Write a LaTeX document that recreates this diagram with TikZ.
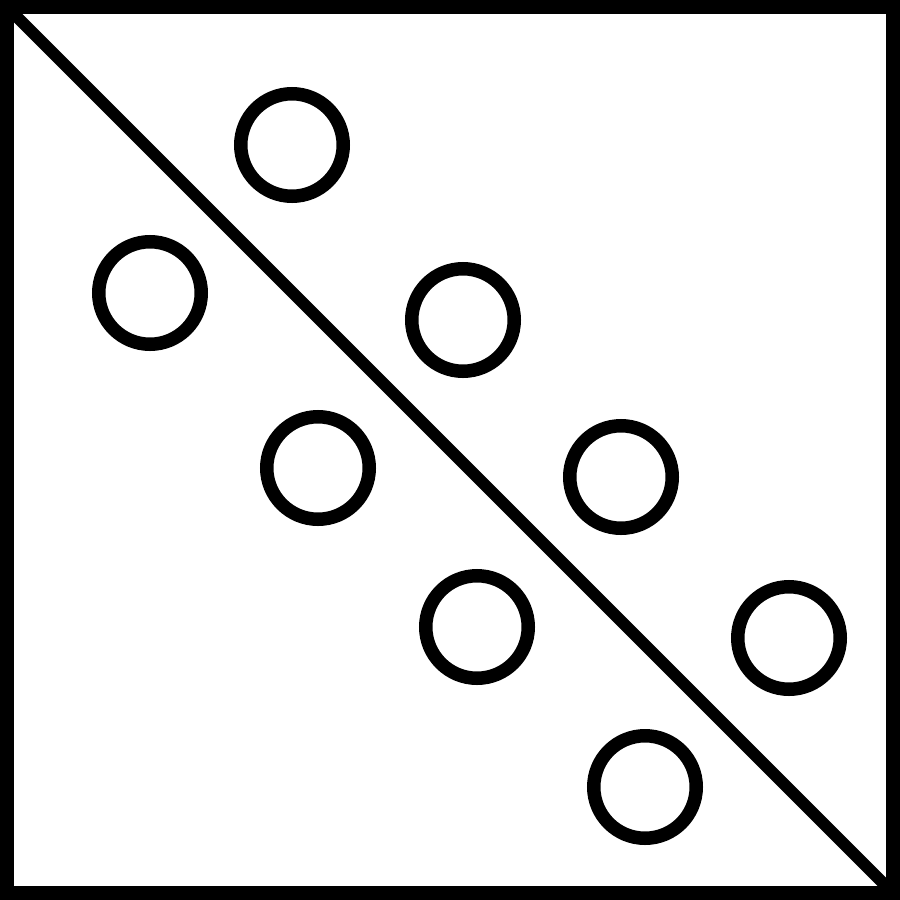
\documentclass[tikz,border=0pt]{standalone}
\begin{document}
\begin{tikzpicture}[x=1pt,y=-1pt,
  frame/.style={draw=black,line width=13.5pt},
  diag/.style={draw=black,line width=12pt},
  ring/.style={circle,draw=black,line width=13.5pt,minimum size=102.5pt,inner sep=0pt}]
\useasboundingbox (0,0) rectangle (900,900);
\fill[white] (0,0) rectangle (900,900);
\draw[frame] (7,7) rectangle (893,893);
\coordinate (tl) at (13,13);
\coordinate (br) at (888,888);
\draw[diag] (tl) -- (br);
\node[ring] (c1) at (292,145) {};
\node[ring] (c2) at (150,293) {};
\node[ring] (c3) at (463,320) {};
\node[ring] (c4) at (318,468) {};
\node[ring] (c5) at (621,477) {};
\node[ring] (c6) at (477,627) {};
\node[ring] (c7) at (789,638) {};
\node[ring] (c8) at (645,787) {};
\end{tikzpicture}
\end{document}
